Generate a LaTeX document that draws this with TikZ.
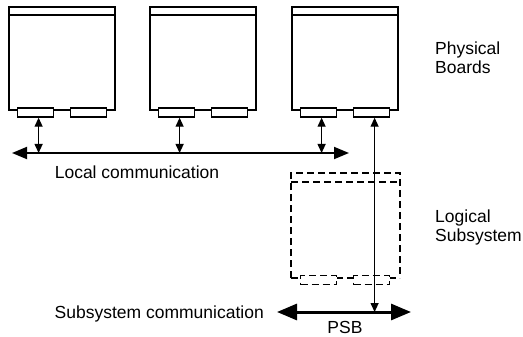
\documentclass[tikz,border=0pt]{standalone}
\usepackage{fontspec}
\setmainfont{Liberation Sans}
\usetikzlibrary{arrows.meta,calc}
\tikzset{
  board/.style={draw,line width=1.3pt,fill=white},
  conn/.style={draw,line width=1.2pt,fill=white,minimum width=36pt,minimum height=9pt,inner sep=0pt},
  dconn/.style={conn,dash pattern=on 7pt off 4pt},
  dline/.style={line width=1.2pt,dash pattern=on 7pt off 4pt},
  lbl/.style={font=\fontsize{17.5}{18.5}\selectfont,inner sep=0pt},
  small/.style={line width=1.2pt,{Triangle[length=9pt,width=8pt]}-{Triangle[length=9pt,width=8pt]}},
  bus/.style={line width=1.8pt,{Triangle[length=15pt,width=12pt]}-{Triangle[length=15pt,width=12pt]}},
  psb/.style={line width=3pt,{Triangle[length=20pt,width=16pt]}-{Triangle[length=20pt,width=16pt]}}
}
\begin{document}
\begin{tikzpicture}[x=1pt,y=-1pt]
\useasboundingbox (0,0) rectangle (523,337);
% physical boards
\foreach \i/\x in {1/9,2/150,3/292}{
  \draw[board] (\x,7) rectangle ++(106,103);
  \draw[line width=1.3pt] (\x,15) -- ++(106,0);
  \node[conn,anchor=north west] (b\i l) at (\x+8,107.5) {};
  \node[conn,anchor=north west] (b\i r) at (\x+61,107.5) {};
}
% local bus
\coordinate (lbL) at (12,153);
\coordinate (lbR) at (349,153);
\draw[bus] (lbL) -- (lbR);
\node[lbl,anchor=base] (loc) at (137,178.5) {Local communication};
\foreach \n in {b1l,b2l,b3l}{
  \draw[small] ([xshift=3pt]\n.south) -- ([xshift=3pt]\n.south |- lbL);
}
% logical subsystem
\draw[dline] (291,278) -- (291,173) -- (400,173) -- (400,278);
\draw[dline] (291,182) -- (400,182);
\draw[dline] (291,278) -- (300,278);
\draw[dline] (336,278) -- (353,278);
\draw[dline] (389,278) -- (400,278);
\node[dconn,anchor=north west] (s1) at (300,275) {};
\node[dconn,anchor=north west] (s2) at (353,275) {};
% PSB
\coordinate (psL) at (277,312);
\coordinate (psR) at (411,312);
\draw[psb] (psL) -- (psR);
\draw[small] ([xshift=3pt]b3r.south) -- ([xshift=3pt]b3r.south |- psL);
\node[lbl,anchor=base] (psblbl) at (345,333.5) {PSB};
\node[lbl,anchor=base east] (subc) at (264,318) {Subsystem communication};
% right labels
\node[lbl,anchor=west,align=left] (phys) at (435,57.5) {Physical\\Boards};
\node[lbl,anchor=west,align=left] (logi) at (435,227.5) {Logical\\Subsystem};
\end{tikzpicture}
\end{document}
